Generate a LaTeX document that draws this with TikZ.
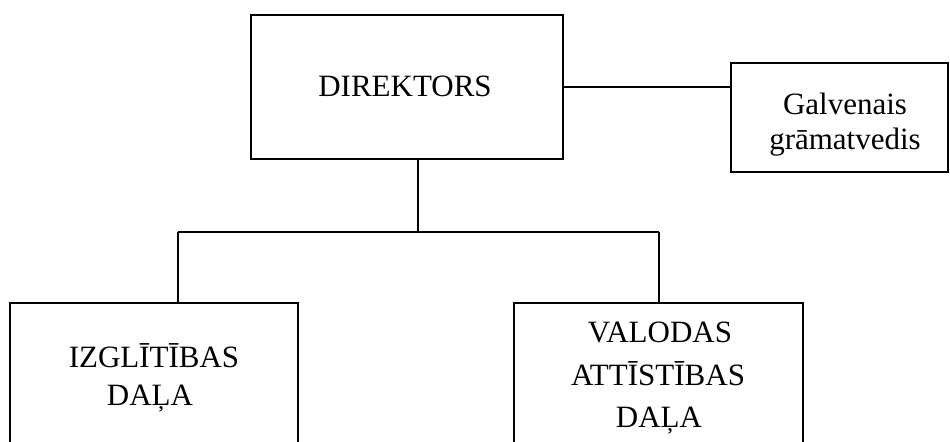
\documentclass[tikz,border=0pt]{standalone}
\usepackage{fontspec}
\setmainfont{Liberation Serif}
\begin{document}
\begin{tikzpicture}[x=0.5pt,y=-0.5pt,
  box/.style={draw=black,line width=1pt,rectangle,inner sep=0pt,outer sep=0pt},
  lbl/.style={anchor=base,inner sep=0pt,font=\fontsize{15.5}{18}\selectfont},
  conn/.style={draw=black,line width=1pt}]
\path[use as bounding box] (0,0) rectangle (950,442);
\begin{scope}
\clip (0,0) rectangle (950,442);
\node[box,minimum width=312pt*0.5,minimum height=144pt*0.5] (dir) at (407,87) {};
\node[box,minimum width=217pt*0.5,minimum height=109pt*0.5] (gal) at (839.5,117.5) {};
\node[box,minimum width=288pt*0.5,minimum height=170pt*0.5] (izg) at (154,388) {};
\node[box,minimum width=289pt*0.5,minimum height=170pt*0.5] (val) at (658.5,388) {};

\node[lbl] (tdir) at (405,97) {DIREKTORS};
\node[lbl] (tgal1) at (845,115) {Galvenais};
\node[lbl] (tgal2) at (845,150) {grāmatvedis};
\node[lbl] (tizg1) at (154,368) {IZGLĪTĪBAS};
\node[lbl] (tizg2) at (150,406) {DAĻA};
\node[lbl] (tval1) at (660,343) {VALODAS};
\node[lbl] (tval2) at (658,386) {ATTĪSTĪBAS};
\node[lbl] (tval3) at (659,428) {DAĻA};

\coordinate (jm) at (418,232);
\coordinate (jl) at (178,232);
\coordinate (jr) at (659,232);

\draw[conn] (dir.east) -- (dir.east -| gal.west);
\draw[conn] (dir.south -| jm) -- (jm);
\draw[conn] (jl) -- (jr);
\draw[conn] (jl) -- (jl |- izg.north);
\draw[conn] (jr) -- (jr |- val.north);
\end{scope}
\end{tikzpicture}
\end{document}
